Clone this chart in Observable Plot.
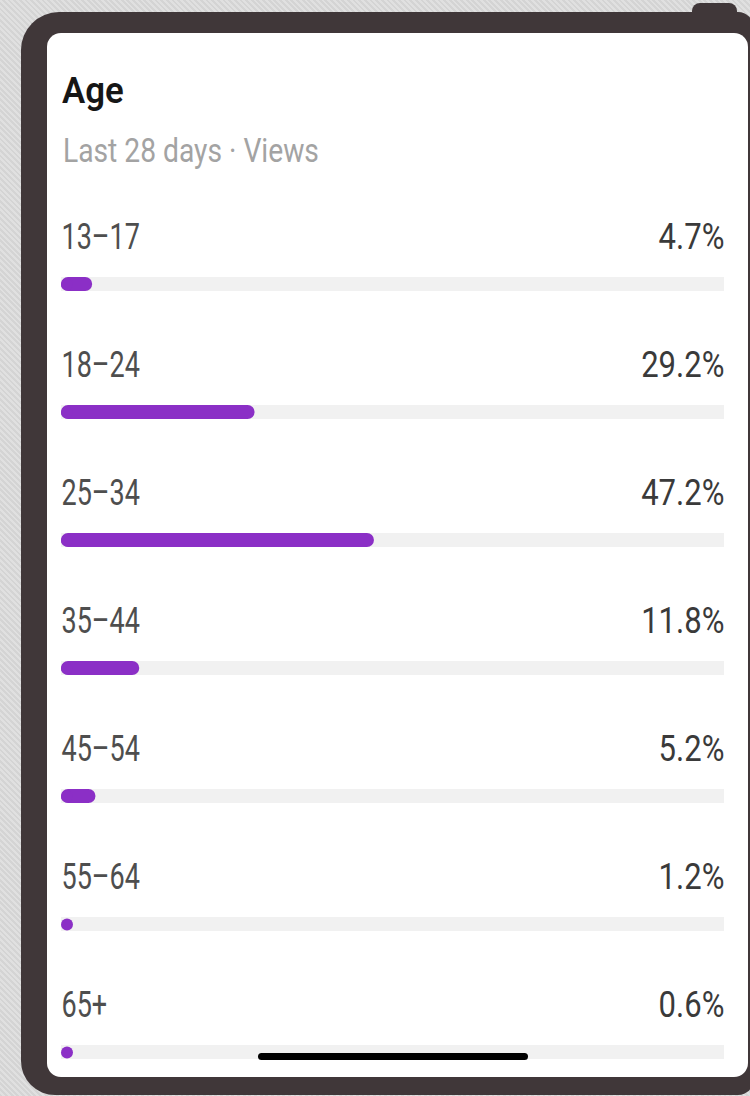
<!DOCTYPE html>
<html><head><meta charset="utf-8">
<script src="https://cdn.jsdelivr.net/npm/d3@7"></script>
<script src="https://cdn.jsdelivr.net/npm/@observablehq/plot@0.6"></script>
<style>
html,body{margin:0;padding:0;}
body{width:750px;height:1096px;overflow:hidden;position:relative;font-family:Roboto,sans-serif;
  background:#dadada repeating-linear-gradient(45deg,#d4d4d4 0 2px,#e0e0e0 2px 4px);}
#frame{position:absolute;left:21px;top:12px;width:733px;height:1083px;background:#403739;border-radius:38px 16px 16px 34px;}
#button{position:absolute;left:692px;top:3px;width:45px;height:16px;background:#403739;border-radius:8px 8px 0 0;}
#card{position:absolute;left:47px;top:33px;width:701px;height:1044px;background:#fff;border-radius:14px;overflow:hidden;}
#title{position:absolute;left:15px;top:39px;font-size:37px;line-height:37px;font-weight:600;color:#161616;transform:scaleX(0.94);transform-origin:0 0;white-space:nowrap;}
#subtitle{position:absolute;left:16px;top:101px;font-size:33px;line-height:33px;color:#a3a3a3;transform:scaleX(0.855);transform-origin:0 0;white-space:nowrap;}
#chart{position:absolute;left:0;top:147px;}
#home{position:absolute;left:211px;top:1020px;width:270px;height:7px;background:#000;border-radius:4px;}
</style></head>
<body>
<div id="button"></div>
<div id="frame"></div>
<div id="card">
  <div id="title">Age</div>
  <div id="subtitle">Last 28 days · Views</div>
  <div id="chart"></div>
  <div id="home"></div>
</div>
<script>
const ages = ["13–17", "18–24", "25–34", "35–44", "45–54", "55–64", "65+"];
const shares = [4.7, 29.2, 47.2, 11.8, 5.2, 1.2, 0.6];
const valueLabels = ["4.7%", "29.2%", "47.2%", "11.8%", "5.2%", "1.2%", "0.6%"];
const trackMax = 100;

const data = ages.map((age, i) => ({age, value: shares[i], label: valueLabels[i]}));
const purple = "#8b2fc6";

const chart = Plot.plot({
  width: 701,
  height: 897,
  marginLeft: 14,
  marginRight: 24,
  marginTop: 0,
  marginBottom: 0,
  style: {background: "transparent", fontFamily: "Roboto, sans-serif"},
  x: {domain: [0, trackMax], axis: null},
  y: {type: "band", domain: ages, range: [36.58, 938.42], paddingInner: 0.8912, paddingOuter: 0.4456, axis: null},
  marks: [
    Plot.barX(data, {x1: 0, x2: trackMax, y: "age", fill: "#f1f1f1"}),
    Plot.barX(data, {filter: d => d.value >= 2, x: "value", y: "age", fill: purple, rx: 7}),
    Plot.dot(data, {x: 0, y: "age", r: 6, dx: 5.5, fill: purple, stroke: null}),
    Plot.text(data, {x: 0, y: "age", text: "age", textAnchor: "start", lineAnchor: "bottom", dy: -36, fontSize: 37, fill: "#4e4e4e", className: "lab"}),
    Plot.text(data, {x: trackMax, y: "age", text: "label", textAnchor: "end", lineAnchor: "bottom", dy: -36, fontSize: 37, fill: "#3a3a3a", className: "val"})
  ]
});
document.getElementById("chart").appendChild(chart);

// horizontally condense text glyphs around their anchor point
function condense(sel, sx) {
  chart.querySelectorAll(sel).forEach(t => {
    const tr = t.getAttribute("transform");
    if (tr && tr.includes("translate")) {
      t.setAttribute("transform", tr + ` scale(${sx},1)`);
    } else {
      const x = +t.getAttribute("x") || 0, y = +t.getAttribute("y") || 0;
      t.setAttribute("transform", `translate(${x},${y}) scale(${sx},1) translate(${-x},${-y})`);
    }
  });
}
condense(".lab text", 0.73);
condense(".val text", 0.84);
</script>
</body></html>
